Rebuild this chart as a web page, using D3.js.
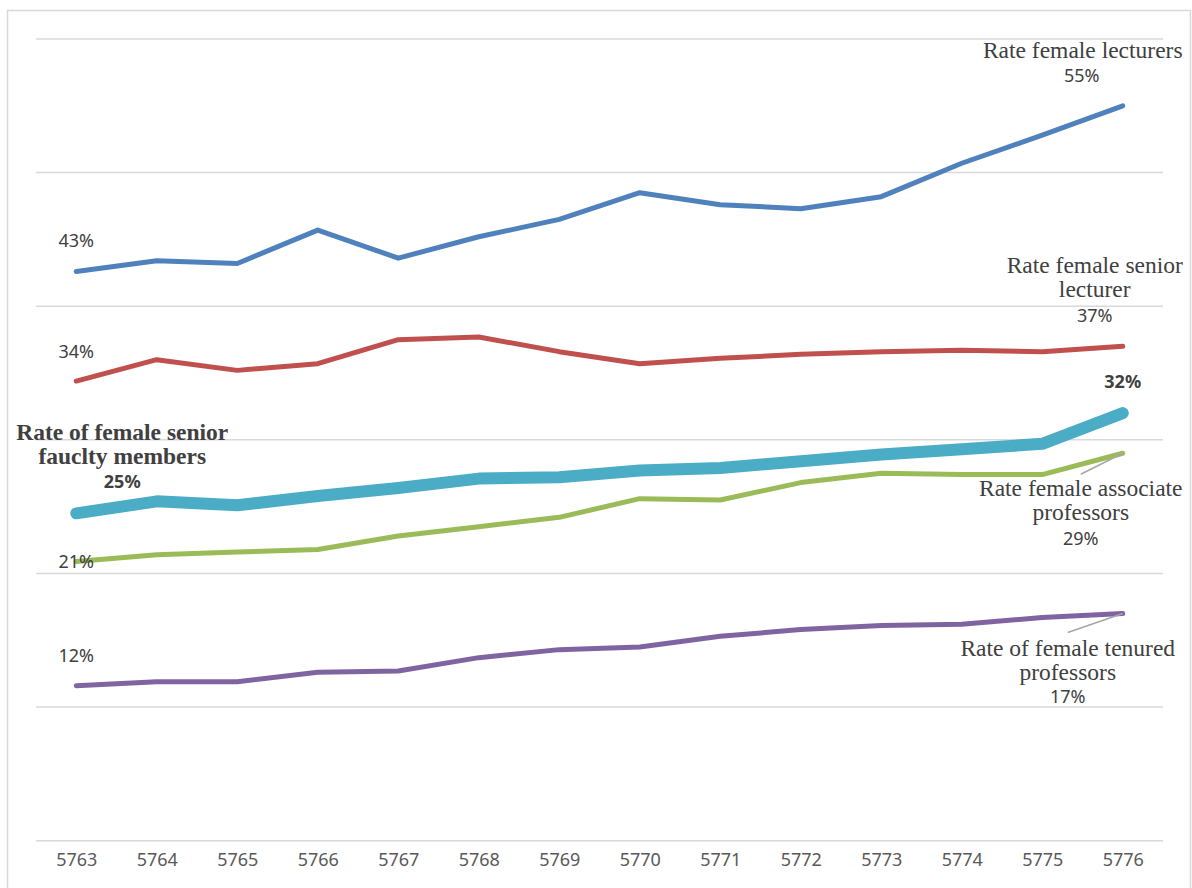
<!DOCTYPE html>
<html>
<head>
<meta charset="utf-8">
<script src="https://cdn.jsdelivr.net/npm/d3@7"></script>
<style>
  body { margin: 0; background: #fff; }
  .pct { font-family: "Noto Sans", sans-serif; font-size: 18px; fill: #404040; }
  .ser { font-family: "Liberation Serif", "Times New Roman", serif; font-size: 23.5px; fill: #404040; }
  .tick text { font-family: "Noto Sans", sans-serif; font-size: 18px; fill: #595959; }
</style>
</head>
<body>
<div id="chart"></div>
<script>
// categories (Hebrew calendar years)
var years = ["5763","5764","5765","5766","5767","5768","5769","5770","5771","5772","5773","5774","5775","5776"];

// series values, in percent
var lecturers       = [42.6, 43.4, 43.2, 45.7, 43.6, 45.2, 46.5, 48.5, 47.6, 47.3, 48.2, 50.7, 52.8, 55.0];
var seniorLecturers = [34.4, 36.0, 35.2, 35.7, 37.5, 37.7, 36.6, 35.7, 36.1, 36.4, 36.6, 36.7, 36.6, 37.0];
var seniorFaculty   = [24.5, 25.4, 25.1, 25.8, 26.4, 27.1, 27.2, 27.7, 27.9, 28.4, 28.9, 29.3, 29.7, 32.0];
var associateProfs  = [20.9, 21.4, 21.6, 21.8, 22.8, 23.5, 24.2, 25.6, 25.5, 26.8, 27.5, 27.4, 27.4, 29.0];
var tenuredProfs    = [11.6, 11.9, 11.9, 12.6, 12.7, 13.7, 14.3, 14.5, 15.3, 15.8, 16.1, 16.2, 16.7, 17.0];

// gridline values
var gridTicks = [0, 10, 20, 30, 40, 50, 60];

var W = 1192, H = 888;

var svg = d3.select("#chart")
  .append("svg")
    .attr("width", W)
    .attr("height", H);

// chart area border
svg.append("rect")
    .attr("x", 7.5).attr("y", 10.5)
    .attr("width", 1183).attr("height", 890)
    .attr("fill", "none")
    .attr("stroke", "#d9d9d9")
    .attr("stroke-width", 1.5);

var x = d3.scalePoint()
  .domain(years)
  .range([36, 1163])
  .padding(0.5);

var y = d3.scaleLinear()
  .domain([0, 60])
  .range([840.7, 39]);

// horizontal gridlines
svg.append("g")
  .selectAll("line")
  .data(gridTicks)
  .enter()
  .append("line")
    .attr("x1", 36)
    .attr("x2", 1163)
    .attr("y1", function(d) { return y(d); })
    .attr("y2", function(d) { return y(d); })
    .attr("stroke", "#d9d9d9")
    .attr("stroke-width", 1.5);

// category axis, labels only
var xAxis = svg.append("g")
    .attr("transform", "translate(0," + y(0) + ")")
    .call(d3.axisBottom(x).tickSize(0).tickPadding(13));
xAxis.select(".domain").remove();

var series = [
  {name: "lecturers", values: lecturers,       color: "#4f81bd", width: 5},
  {name: "senior",    values: seniorLecturers, color: "#c0504d", width: 5},
  {name: "assoc",     values: associateProfs,  color: "#9bbb59", width: 5},
  {name: "tenured",   values: tenuredProfs,    color: "#8064a2", width: 5},
  {name: "faculty",   values: seniorFaculty,   color: "#4bacc6", width: 12}
];

var line = d3.line()
  .x(function(d, i) { return x(years[i]); })
  .y(function(d) { return y(d); });

svg.append("g")
  .selectAll("path")
  .data(series)
  .enter()
  .append("path")
    .attr("d", function(d) { return line(d.values); })
    .attr("fill", "none")
    .attr("stroke", function(d) { return d.color; })
    .attr("stroke-width", function(d) { return d.width; })
    .attr("stroke-linejoin", "round")
    .attr("stroke-linecap", "round");

var first = years[0], last = years[years.length - 1];
var n = years.length - 1;

// leader lines for the two lower right labels
svg.append("line")
    .attr("x1", x(last)).attr("y1", y(associateProfs[n]))
    .attr("x2", x(last) - 42).attr("y2", y(associateProfs[n]) + 21)
    .attr("stroke", "#a6a6a6").attr("stroke-width", 1.5);
svg.append("line")
    .attr("x1", x(last)).attr("y1", y(tenuredProfs[n]))
    .attr("x2", x(last) - 55).attr("y2", y(tenuredProfs[n]) + 19)
    .attr("stroke", "#a6a6a6").attr("stroke-width", 1.5);

function pct(v) { return Math.round(v) + "%"; }

// helper to put a text line
function label(txt, cx, by, cls, bold) {
  svg.append("text")
      .attr("class", cls)
      .attr("x", cx)
      .attr("y", by)
      .attr("text-anchor", "middle")
      .style("font-weight", bold ? "bold" : "normal")
      .text(txt);
}

// left side first-point labels
label(pct(lecturers[0]) , x(first), y(lecturers[0]) - 24, "pct");
label(pct(seniorLecturers[0]), x(first), y(seniorLecturers[0]) - 23, "pct");
label(pct(associateProfs[0]), x(first), y(associateProfs[0]) + 7, "pct");
label(pct(tenuredProfs[0]), x(first), y(tenuredProfs[0]) - 24, "pct");
label(pct(seniorFaculty[0]), x(first) + 46, y(seniorFaculty[0]) - 25, "pct", true);
label("Rate of female senior", x(first) + 46, y(seniorFaculty[0]) - 73, "ser", true);
label("fauclty members", x(first) + 46, y(seniorFaculty[0]) - 49, "ser", true);

// right side last-point labels
label("Rate female lecturers", x(last) - 40, 58, "ser");
label(pct(lecturers[n]), x(last) - 41, 82, "pct");

label("Rate female senior", x(last) - 28, y(seniorLecturers[n]) - 73, "ser");
label("lecturer", x(last) - 28, y(seniorLecturers[n]) - 49, "ser");
label(pct(seniorLecturers[n]), x(last) - 28, y(seniorLecturers[n]) - 24, "pct");

label(pct(seniorFaculty[n]), x(last), y(seniorFaculty[n]) - 25, "pct", true);

label("Rate female associate", x(last) - 42, y(associateProfs[n]) + 43, "ser");
label("professors", x(last) - 42, y(associateProfs[n]) + 67, "ser");
label(pct(associateProfs[n]), x(last) - 42, y(associateProfs[n]) + 92, "pct");

label("Rate of female tenured", x(last) - 55, y(tenuredProfs[n]) + 42, "ser");
label("professors", x(last) - 55, y(tenuredProfs[n]) + 66, "ser");
label(pct(tenuredProfs[n]), x(last) - 55, y(tenuredProfs[n]) + 89, "pct");
</script>
</body>
</html>
